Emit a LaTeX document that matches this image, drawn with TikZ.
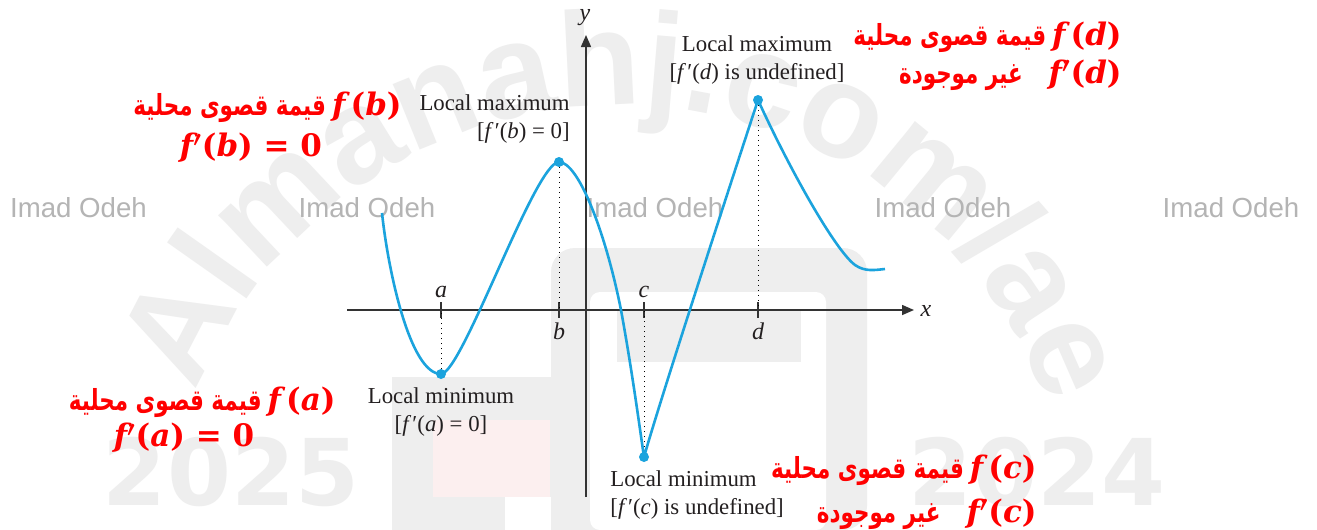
\documentclass[tikz,border=0pt]{standalone}
\usepackage{fontspec}
\usepackage{graphicx}
\usetikzlibrary{decorations.text,arrows.meta}
\setmainfont{Liberation Serif}
\newfontfamily\arabicfont[Script=Arabic]{DejaVu Sans}
\newfontfamily\wmsans{Liberation Sans}
\newfontfamily\wmdeja{DejaVu Sans}
\newfontfamily\mathser{DejaVu Serif}
\TeXXeTstate=1
\definecolor{curveblue}{HTML}{1BA3DD}
\definecolor{wmgray}{HTML}{EEEEEE}
\definecolor{wmpink}{HTML}{FCEFEF}
\definecolor{odehgray}{HTML}{B4B4B4}
\definecolor{axisgray}{HTML}{333333}
\definecolor{labelblack}{HTML}{231F20}
\definecolor{redtext}{HTML}{FF0000}
\newcommand\wmbig{\wmsans\bfseries\fontsize{67}{70}\selectfont}
\newcommand\mfont{\mathser\bfseries\fontsize{15.5}{18}\selectfont}
\newcommand\rF[1]{{\mfont\itshape f\,}{\mfont(}{\mfont\itshape #1}{\mfont)}}
\newcommand\rFp[1]{{\mfont\itshape f}\mbox{\fontsize{15.5}{18}\selectfont\boldmath$'$}{\mfont(}{\mfont\itshape #1}{\mfont)}}
\newcommand\arb[1]{\scalebox{0.74}[1]{\arabicfont\bfseries\fontsize{14.5}{17}\selectfont\beginR #1\endR}}
\begin{document}
\begin{tikzpicture}[x=0.5pt,y=-0.5pt,
  odeh/.style={font=\wmsans\fontsize{13.8}{14}\selectfont, text=odehgray, inner sep=0pt},
  wmnum/.style={font=\wmdeja\bfseries\fontsize{46}{46}\selectfont, text=wmgray, inner sep=0pt},
  axisline/.style={draw=axisgray, line width=0.75pt},
  axisarrow/.style={axisline, -{Triangle[length=6pt,width=5pt]}},
  tickline/.style={draw=axisgray, line width=0.6pt},
  dotline/.style={draw=black, line width=0.5pt, dotted},
  curve/.style={draw=curveblue, line width=1.3pt, line join=round},
  blab/.style={font=\fontsize{11.4}{14}\selectfont, text=labelblack, inner sep=0pt},
  redtxt/.style={text=redtext, inner sep=0pt}]
\useasboundingbox (0,0) rectangle (1317,530);
\fill[white] (0,0) rectangle (1317,530);
% faint watermark logo
\fill[wmgray] (392,377) rectangle (590,530);
\fill[wmpink] (433,420) rectangle (550,497);
\fill[white] (505,497) rectangle (551,530);
\fill[wmgray, rounded corners=12pt] (551,530) -- (551,248) -- (867,248) -- (867,530) -- cycle;
\fill[white, rounded corners=5pt] (590,530) -- (590,292) -- (826,292) -- (826,530) -- cycle;
\fill[wmgray] (617,310) rectangle (801,362);
\path[decorate, decoration={text along path, text align=center, text color=wmgray,
  text={|\wmbig|Almanahj.com/ae}}]
  plot[domain=0:152, samples=80, variable=\t] ({620+455*cos(165-\t)}, {560-455*sin(165-\t)});
\node[wmnum] (y25) at (231,472) {2025};
\node[wmnum] (y24) at (1037,472) {2024};
\foreach \i/\xx in {1/78.5,2/367,3/655,4/943,5/1231}
  \node[odeh] (odeh\i) at (\xx,208) {Imad Odeh};
% axes
\coordinate (xs) at (347,310); \coordinate (xe) at (914,310);
\coordinate (ys) at (586,497); \coordinate (ye) at (586,35);
\draw[axisarrow] (xs) -- (xe);
\draw[axisarrow] (ys) -- (ye);
\node[blab, font=\fontsize{12}{14}\selectfont\itshape] (xl) at (926,311) {x};
\node[blab, font=\fontsize{12}{14}\selectfont\itshape] (yl) at (585,18) {y};
% points
\coordinate (S) at (382,213);
\coordinate (A) at (441,374);
\coordinate (B) at (559,162);
\coordinate (C) at (644,457);
\coordinate (D) at (758,100);
\coordinate (E) at (885,269);
\coordinate (ta) at (441,310); \coordinate (tb) at (559,310);
\coordinate (tc) at (644,310); \coordinate (td) at (758,310);
\foreach \p in {ta,tb,tc,td}
  \draw[tickline] ([yshift=4pt]\p) -- ([yshift=-4pt]\p);
\draw[dotline] (A) -- (ta);
\draw[dotline] (B) -- (tb);
\draw[dotline] (C) -- (tc);
\draw[dotline] (D) -- (td);
\node[blab, font=\fontsize{12}{14}\selectfont\itshape] (la) at (441,292) {a};
\node[blab, font=\fontsize{12}{14}\selectfont\itshape] (lb) at (559,331) {b};
\node[blab, font=\fontsize{12}{14}\selectfont\itshape] (lc) at (644,292) {c};
\node[blab, font=\fontsize{12}{14}\selectfont\itshape] (ld) at (758,331) {d};
% curve
\draw[curve] (S) .. controls (388,270) and (410,374) .. (A)
  .. controls (462,374) and (535,162) .. (B)
  .. controls (578,162) and (605,230) .. (621,310)
  .. controls (632,370) and (640,430) .. (C)
  .. controls (660,400) and (735,170) .. (D)
  .. controls (790,170) and (835,250) .. (855,265)
  .. controls (865,272) and (875,270) .. (E);
\foreach \p in {A,B,C,D}
  \fill[curveblue] (\p) circle[radius=2.5pt];
% black labels
\node[blab, align=right, anchor=east] (Lb) at (570,119) {Local maximum\\{[}\textit{f\,}′(\textit{b}) = 0]};
\node[blab, align=center] (Ld) at (757,60) {Local maximum\\{[}\textit{f\,}′(\textit{d}) is undefined]};
\node[blab, align=center] (La) at (441,412) {Local minimum\\{[}\textit{f\,}′(\textit{a}) = 0]};
\node[blab, align=left, anchor=west] (Lc) at (610,495) {Local minimum\\{[}\textit{f\,}′(\textit{c}) is undefined]};
% red labels
\node[redtxt, anchor=east] (rd1) at (1122,37) {\arb{قيمة قصوى محلية}\hspace{3pt}\rF{d}};
\node[redtxt, anchor=east] (rd2) at (1122,75) {\arb{غير موجودة}\hspace{13pt}\rFp{d}};
\node[redtxt, anchor=east] (rb1) at (402,107) {\arb{قيمة قصوى محلية}\hspace{3pt}\rF{b}};
\node[redtxt] (rb2) at (251,148) {\rFp{b}{\mfont\ = 0}};
\node[redtxt, anchor=east] (ra1) at (336,402) {\arb{قيمة قصوى محلية}\hspace{3pt}\rF{a}};
\node[redtxt] (ra2) at (184,438) {\rFp{a}{\mfont\ = 0}};
\node[redtxt, anchor=east] (rc1) at (1037,470) {\arb{قيمة قصوى محلية}\hspace{3pt}\rF{c}};
\node[redtxt, anchor=east] (rc2) at (1037,514) {\arb{غير موجودة}\hspace{13pt}\rFp{c}};
\end{tikzpicture}
\end{document}
